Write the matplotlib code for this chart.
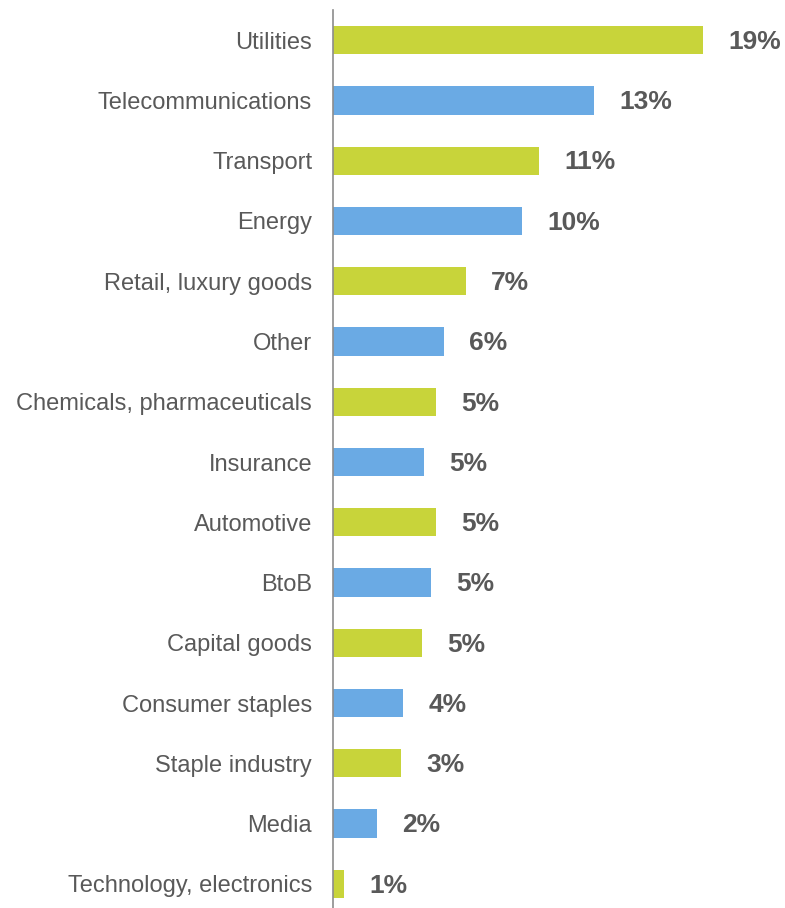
import matplotlib
matplotlib.use('Agg')
import matplotlib.pyplot as plt

# Sector breakdown, top to bottom
sectors = ["Utilities", "Telecommunications", "Transport", "Energy",
           "Retail, luxury goods", "Other", "Chemicals, pharmaceuticals",
           "Insurance", "Automotive", "BtoB", "Capital goods",
           "Consumer staples", "Staple industry", "Media",
           "Technology, electronics"]
shares = [18.96, 13.4, 10.55, 9.69, 6.8, 5.69, 5.3, 4.65, 5.3, 5.03,
          4.58, 3.59, 3.49, 2.24, 0.58]

GREEN = "#C8D43A"
BLUE = "#6AAAE4"
TEXT = "#595959"

plt.rcParams['font.family'] = ['Liberation Sans', 'DejaVu Sans']

fig = plt.figure(figsize=(7.85, 9.08), dpi=100)
ax = fig.add_axes([333 / 785, -6 / 908, 452 / 785, 904 / 908])

ypos = list(range(len(sectors)))
colors = [GREEN if i % 2 == 0 else BLUE for i in ypos]
ax.barh(ypos, shares, height=0.47, color=colors)

for y, v in zip(ypos, shares):
    ax.text(v + 1.3, y + 0.03, f"{v:.0f}%", va='center', ha='left',
            fontsize=19, fontweight='bold', color=TEXT)

ax.set_ylim(len(sectors) - 0.5, -0.5)
ax.set_xlim(0, 452 / 19.5)
ax.set_yticks(ypos)
ax.set_yticklabels(sectors, fontsize=17, color=TEXT)
ax.tick_params(axis='y', length=0, pad=15)
ax.set_xticks([])
for side in ['top', 'right', 'bottom']:
    ax.spines[side].set_visible(False)
ax.spines['left'].set_color('#8C8C8C')
ax.spines['left'].set_linewidth(1.2)

fig.savefig('out.png', dpi=100)
